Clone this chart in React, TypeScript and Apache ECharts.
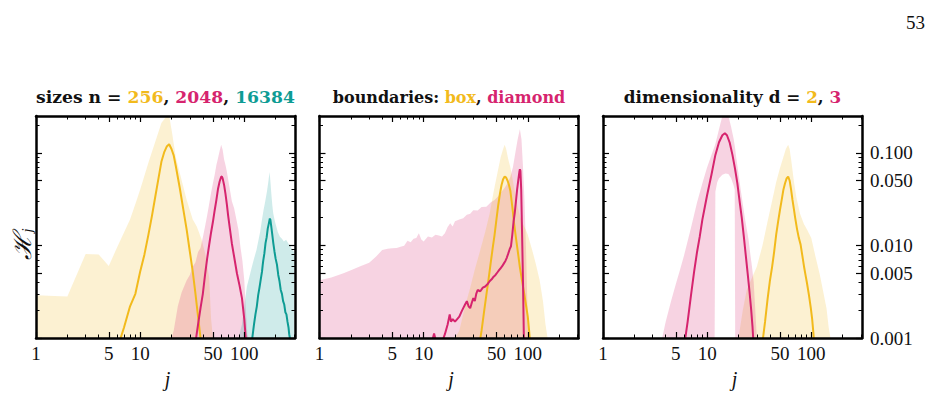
import React, { useEffect, useRef } from "react";
import * as echarts from "echarts";

// ---------- axis ranges & ticks ----------
const xMin = 1;
const xMax = 307;
const yMin = 0.001;
const yMax = 0.25;
const xMajorTicks = [1, 5, 10, 50, 100];
const xMinorTicks = [2, 3, 4, 6, 7, 8, 9, 20, 30, 40, 60, 70, 80, 90, 200, 300];
const yMajorTicks = [0.001, 0.005, 0.01, 0.05, 0.1];
const yMinorTicks = [0.002, 0.003, 0.004, 0.006, 0.007, 0.008, 0.009, 0.02, 0.03, 0.04, 0.06, 0.07, 0.08, 0.09, 0.2];

// ---------- panel 1: sizes ----------
const n256BandJ = [1, 2, 3, 4, 5, 6, 7, 8, 9, 10, 12, 14, 16, 18, 19, 20, 22, 25, 28, 32, 35, 39, 42, 46, 48, 50];
const n256BandHi = [0.0029, 0.0028, 0.0081, 0.008, 0.006, 0.0095, 0.0138, 0.019, 0.028, 0.04, 0.078, 0.133, 0.21, 0.28, 0.32, 0.18, 0.09, 0.051, 0.031, 0.019, 0.016, 0.0115, 0.0083, 0.0045, 0.0016, 0.0005];
const n256BandLo = [0.0005, 0.0005, 0.0005, 0.0005, 0.0005, 0.0005, 0.0005, 0.0005, 0.0005, 0.0005, 0.0005, 0.0005, 0.0005, 0.0005, 0.0005, 0.0005, 0.0005, 0.0005, 0.0005, 0.0005, 0.0005, 0.0005, 0.0005, 0.0005, 0.0005, 0.0005];
const n256LineJ = [6, 6.5, 7, 8, 9, 10, 11, 12, 13, 14, 15, 16, 17, 18, 19, 20, 21, 22, 24, 26, 28, 30, 32, 34, 36, 38, 39];
const n256LineH = [0.0007, 0.001, 0.0013, 0.0022, 0.003, 0.0052, 0.008, 0.013, 0.021, 0.034, 0.053, 0.08, 0.101, 0.117, 0.124, 0.11, 0.094, 0.072, 0.042, 0.0244, 0.0147, 0.0086, 0.0052, 0.003, 0.0017, 0.001, 0.0008];

const n2048BandJ = [20, 21, 23, 25, 28, 30, 32, 34, 36, 38, 40, 42, 44, 46, 48, 50, 52, 54, 56, 58, 60, 62, 64, 66, 68, 72, 76, 80, 84, 88, 92, 96, 100, 104, 107, 110];
const n2048BandHi = [0.0006, 0.0012, 0.0022, 0.0031, 0.0042, 0.0048, 0.0059, 0.0066, 0.0085, 0.0094, 0.0122, 0.016, 0.021, 0.028, 0.037, 0.047, 0.058, 0.074, 0.088, 0.105, 0.122, 0.108, 0.085, 0.074, 0.063, 0.043, 0.03, 0.025, 0.019, 0.0147, 0.0095, 0.0068, 0.0042, 0.0019, 0.0011, 0.0006];
const n2048BandLo = n2048BandJ.map(() => 0.0005);
const n2048LineJ = [34, 36, 38, 40, 42, 44, 46, 48, 50, 52, 54, 56, 58, 60, 61, 62, 64, 66, 68, 70, 73, 76, 80, 85, 90, 95, 100, 104];
const n2048LineH = [0.0009, 0.0014, 0.0021, 0.003, 0.0048, 0.0072, 0.0101, 0.0138, 0.018, 0.024, 0.031, 0.041, 0.049, 0.055, 0.0555, 0.053, 0.045, 0.036, 0.028, 0.021, 0.0147, 0.0105, 0.0075, 0.005, 0.0037, 0.0027, 0.0016, 0.0009];

const n16384BandJ = [88, 95, 100, 106, 112, 118, 124, 131, 136, 142, 148, 153, 159, 165, 170, 175, 178, 182, 186, 190, 195, 200, 210, 220, 230, 240, 252, 265, 278, 290, 300];
const n16384BandHi = [0.0008, 0.0014, 0.0022, 0.0036, 0.0046, 0.0058, 0.0072, 0.0089, 0.011, 0.014, 0.019, 0.024, 0.03, 0.038, 0.048, 0.062, 0.05, 0.036, 0.027, 0.022, 0.019, 0.017, 0.014, 0.0124, 0.0118, 0.011, 0.0115, 0.0105, 0.0098, 0.009, 0.0085];
const n16384BandLo = n16384BandJ.map(() => 0.0005);
const n16384LineJ = [118, 124, 128, 132, 136, 140, 144, 148, 150, 152, 156, 160, 164, 168, 172, 176, 178, 182, 186, 190, 195, 200, 206, 212, 218, 224, 230, 236, 242, 248, 254, 260, 266, 270, 274, 278];
const n16384LineH = [0.0009, 0.0014, 0.0018, 0.0022, 0.0029, 0.0035, 0.0043, 0.0052, 0.006, 0.0068, 0.0082, 0.0106, 0.0122, 0.0152, 0.0172, 0.0195, 0.019, 0.0158, 0.0129, 0.0106, 0.0086, 0.0072, 0.0062, 0.0048, 0.0041, 0.0033, 0.003, 0.0025, 0.0023, 0.0019, 0.0018, 0.0015, 0.0013, 0.0011, 0.001, 0.0008];

// ---------- panel 2: boundaries ----------
const diamondBandJ = [1, 1.3, 1.7, 2, 2.5, 3, 3.5, 4, 4.5, 5, 5.5, 6, 6.5, 7, 7.5, 8, 8.5, 9, 9.5, 10, 11, 12, 13, 14, 15, 16, 17, 18, 19, 20, 22, 24, 26, 28, 30, 33, 36, 40, 44, 48, 52, 56, 60, 64, 68, 72, 76, 80, 84, 87, 90, 93, 96, 98, 100, 102];
const diamondBandHi = [0.0042, 0.0045, 0.005, 0.0054, 0.006, 0.0065, 0.0076, 0.0089, 0.0092, 0.0093, 0.0094, 0.0097, 0.0099, 0.0112, 0.0108, 0.0118, 0.012, 0.0135, 0.0116, 0.011, 0.0125, 0.0122, 0.013, 0.0128, 0.0125, 0.0135, 0.0158, 0.0174, 0.016, 0.0182, 0.019, 0.0196, 0.0215, 0.022, 0.024, 0.0238, 0.026, 0.0262, 0.029, 0.031, 0.034, 0.038, 0.042, 0.047, 0.055, 0.07, 0.1, 0.14, 0.18, 0.14, 0.07, 0.03, 0.01, 0.004, 0.0015, 0.0006];
const diamondBandLo = diamondBandJ.map(() => 0.0005);
const diamondLineJ = [12, 12.6, 13.2, 14, 15, 16, 17, 17.8, 18.3, 19, 20, 21, 22, 23, 24, 25, 26, 27, 28, 29, 30, 31, 32, 33, 35, 37, 39, 41, 43, 45, 47, 49, 51, 53, 55, 57, 59, 61, 63, 65, 67, 69, 71, 73, 75, 77, 79, 81, 83, 84, 85, 86.5, 88, 90, 91, 92];
const diamondLineH = [0.0009, 0.00112, 0.0009, 0.0008, 0.0009, 0.0011, 0.0014, 0.0018, 0.0015, 0.0016, 0.0015, 0.0016, 0.0017, 0.0019, 0.0021, 0.0023, 0.0025, 0.0022, 0.0021, 0.0024, 0.0027, 0.0025, 0.003, 0.0033, 0.0032, 0.0035, 0.0036, 0.0038, 0.0041, 0.0043, 0.0046, 0.0048, 0.0051, 0.0054, 0.0057, 0.006, 0.0064, 0.0068, 0.0074, 0.0082, 0.0091, 0.0098, 0.013, 0.018, 0.0225, 0.03, 0.04, 0.05, 0.062, 0.0665, 0.064, 0.04, 0.015, 0.004, 0.0018, 0.0008];

const boxBandJ = [20, 22, 25, 28, 31, 35, 39, 43, 47, 51, 55, 58, 60, 62, 65, 68, 72, 76, 80, 85, 90, 95, 100, 110, 120, 130, 140, 148, 155];
const boxBandHi = [0.0006, 0.0012, 0.0022, 0.0035, 0.0055, 0.0089, 0.014, 0.022, 0.038, 0.06, 0.09, 0.11, 0.122, 0.11, 0.085, 0.07, 0.05, 0.035, 0.026, 0.02, 0.017, 0.015, 0.013, 0.009, 0.0062, 0.0042, 0.0025, 0.0014, 0.0007];
const boxBandLo = boxBandJ.map(() => 0.0005);
const boxLineJ = [34, 36, 38, 40, 42, 44, 46, 48, 50, 52, 54, 56, 58, 60, 62, 64, 66, 68, 70, 72, 74, 76, 80, 84, 88, 92, 96, 100, 103, 106];
const boxLineH = [0.0008, 0.0012, 0.0019, 0.0029, 0.0043, 0.0064, 0.0093, 0.013, 0.019, 0.027, 0.036, 0.045, 0.052, 0.0555, 0.054, 0.05, 0.045, 0.039, 0.03, 0.023, 0.017, 0.0135, 0.0088, 0.0058, 0.0042, 0.0031, 0.0023, 0.0017, 0.0012, 0.0008];

// ---------- panel 3: dimensionality ----------
const d2BandJ = [19, 20, 22, 24, 27, 30, 34, 38, 42, 46, 50, 54, 57, 60, 62, 65, 68, 72, 78, 85, 92, 100, 110, 121, 130, 140, 147, 153];
const d2BandHi = [0.0006, 0.001, 0.002, 0.0033, 0.0045, 0.0059, 0.01, 0.018, 0.03, 0.048, 0.068, 0.09, 0.11, 0.122, 0.11, 0.075, 0.05, 0.033, 0.022, 0.017, 0.0145, 0.012, 0.0075, 0.0048, 0.0032, 0.0021, 0.0013, 0.0007];
const d2BandLo = d2BandJ.map(() => 0.0005);
const d2LineJ = [34, 36, 38, 40, 42, 44, 46, 48, 50, 52, 54, 56, 58, 60, 62, 64, 66, 68, 70, 73, 76, 79, 82, 85, 88, 91, 95, 99, 102, 105, 108];
const d2LineH = [0.0009, 0.0015, 0.0026, 0.0041, 0.0058, 0.0085, 0.013, 0.018, 0.024, 0.031, 0.04, 0.047, 0.053, 0.0555, 0.05, 0.04, 0.031, 0.025, 0.02, 0.015, 0.012, 0.0102, 0.0078, 0.006, 0.0048, 0.0039, 0.0029, 0.0021, 0.0016, 0.0011, 0.0007];

const d3BandJ = [3.5, 3.7, 4, 4.5, 5, 5.5, 6, 7, 8, 9, 10, 11, 11.8, 12, 12.5, 13, 14, 15, 16, 17, 18, 18.4, 18.6, 19, 20, 21, 22, 23, 24, 25, 26, 27, 28, 29, 30];
const d3BandHi = [0.0006, 0.001, 0.0015, 0.0025, 0.0038, 0.0055, 0.0078, 0.0155, 0.029, 0.047, 0.07, 0.095, 0.118, 0.125, 0.15, 0.18, 0.26, 0.3, 0.25, 0.19, 0.14, 0.12, 0.11, 0.09, 0.06, 0.04, 0.028, 0.02, 0.015, 0.0115, 0.008, 0.0058, 0.004, 0.002, 0.0008];
const d3BandLo = [0.0005, 0.0005, 0.0005, 0.0005, 0.0005, 0.0005, 0.0005, 0.0005, 0.0005, 0.0005, 0.0005, 0.0005, 0.0005, 0.038, 0.048, 0.053, 0.058, 0.06, 0.059, 0.053, 0.044, 0.04, 0.0005, 0.0005, 0.0005, 0.0005, 0.0005, 0.0005, 0.0005, 0.0005, 0.0005, 0.0005, 0.0005, 0.0005, 0.0005];
const d3LineJ = [6, 6.5, 7, 7.5, 8, 8.5, 9, 9.5, 10, 11, 12, 13, 14, 14.8, 15.5, 16.5, 17.5, 18.5, 19.5, 20.5, 21.5, 22.5, 23.5, 24.5, 25.5, 26.5, 27.3, 28];
const d3LineH = [0.0008, 0.0015, 0.0029, 0.0052, 0.0085, 0.0125, 0.019, 0.026, 0.035, 0.058, 0.095, 0.13, 0.155, 0.163, 0.155, 0.128, 0.095, 0.068, 0.047, 0.03, 0.02, 0.0125, 0.0078, 0.005, 0.0032, 0.002, 0.0013, 0.0008];

// ---------- texts ----------
const yTickLabels = ["0.001", "0.005", "0.010", "0.050", "0.100"];
const titles = [
  [["sizes n = ", "k"], ["256", "y"], [", ", "k"], ["2048", "p"], [", ", "k"], ["16384", "t"]],
  [["boundaries: ", "k"], ["box", "y"], [", ", "k"], ["diamond", "p"]],
  [["dimensionality d = ", "k"], ["2", "y"], [", ", "k"], ["3", "p"]],
];
const titleSizes = [17.2, 16, 16.8];

const COL = { y: "#F2BA1C", p: "#D6246E", t: "#0E9C94", k: "#111111" };
const FILL = { y: "rgba(242,186,28,0.2)", p: "rgba(214,36,110,0.2)", t: "rgba(14,156,148,0.2)" };

const SERIF = "'Liberation Serif', 'DejaVu Serif', serif";
const TITLE_FONT = "'DejaVu Serif', 'Liberation Serif', serif";

const gridLefts = [36, 319.5, 603];
const gridTop = 116;
const gridW = 259;
const gridH = 222;

function clampY(v: number) {
  return Math.min(Math.max(v, yMin), yMax);
}
function clampX(v: number) {
  return Math.min(Math.max(v, xMin), xMax);
}

function band(xi: number, yi: number, js: number[], lo: number[], hi: number[], fill: string) {
  return {
    type: "custom",
    xAxisIndex: xi,
    yAxisIndex: yi,
    clip: true,
    silent: true,
    z: 1,
    data: js.map((j, i) => [j, lo[i], hi[i]]),
    encode: { x: 0, y: [1, 2] },
    renderItem: (params: any, api: any) => {
      if (params.dataIndex !== 0) return { type: "group", children: [] };
      const top = js.map((j, i) => api.coord([clampX(j), clampY(hi[i])]));
      const bot = js.map((j, i) => api.coord([clampX(j), clampY(lo[i])])).reverse();
      return {
        type: "polygon",
        shape: { points: top.concat(bot) },
        style: { fill, stroke: null },
      };
    },
  };
}

function line(xi: number, yi: number, js: number[], vs: number[], color: string) {
  return {
    type: "line",
    xAxisIndex: xi,
    yAxisIndex: yi,
    data: js.map((j, i) => [j, vs[i]]),
    showSymbol: false,
    symbol: "none",
    clip: true,
    silent: true,
    z: 3,
    lineStyle: { color, width: 2 },
    itemStyle: { color },
  };
}

function buildOption() {
  const grids: any[] = [];
  const xAxes: any[] = [];
  const yAxes: any[] = [];
  const series: any[] = [];
  const graphics: any[] = [];

  const frame = { show: true, onZero: false, lineStyle: { color: "#000", width: 2.5 } };
  const noLine = { show: false, onZero: false };
  const tickMajor = (vals: number[]) => ({
    show: true, inside: true, length: 6, customValues: vals, lineStyle: { color: "#000", width: 1.2 },
  });
  const tickMinor = (vals: number[]) => ({
    show: true, inside: true, length: 3.5, customValues: vals, lineStyle: { color: "#000", width: 1 },
  });

  for (let p = 0; p < 3; p++) {
    const left = gridLefts[p];
    const g = { left, top: gridTop, width: gridW, height: gridH, containLabel: false };
    grids.push({ ...g });
    grids.push({ ...g });
    const gMaj = 2 * p;
    const gMin = 2 * p + 1;
    const baseX = { type: "log", logBase: 10, min: xMin, max: xMax, splitLine: { show: false }, z: 10 };
    const baseY = { type: "log", logBase: 10, min: yMin, max: yMax, splitLine: { show: false }, z: 10 };
    xAxes.push({
      ...baseX, gridIndex: gMaj, position: "bottom", axisLine: frame, axisTick: tickMajor(xMajorTicks),
      axisLabel: {
        show: true, customValues: xMajorTicks, formatter: (v: number) => String(Math.round(v)),
        margin: 6, fontFamily: SERIF, fontSize: 19, color: "#111",
      },
    });
    xAxes.push({ ...baseX, gridIndex: gMaj, position: "top", axisLine: frame, axisTick: tickMajor(xMajorTicks), axisLabel: { show: false } });
    xAxes.push({ ...baseX, gridIndex: gMin, position: "bottom", axisLine: noLine, axisTick: tickMinor(xMinorTicks), axisLabel: { show: false } });
    xAxes.push({ ...baseX, gridIndex: gMin, position: "top", axisLine: noLine, axisTick: tickMinor(xMinorTicks), axisLabel: { show: false } });

    yAxes.push({ ...baseY, gridIndex: gMaj, position: "left", axisLine: frame, axisTick: tickMajor(yMajorTicks), axisLabel: { show: false } });
    yAxes.push({
      ...baseY, gridIndex: gMaj, position: "right", axisLine: frame, axisTick: tickMajor(yMajorTicks),
      axisLabel: p === 2
        ? {
            show: true, customValues: yMajorTicks,
            formatter: (v: number) => {
              const idx = yMajorTicks.findIndex((t) => Math.abs(Math.log10(t) - Math.log10(v)) < 1e-6);
              return idx >= 0 ? yTickLabels[idx] : "";
            },
            margin: 8, fontFamily: SERIF, fontSize: 19, color: "#111",
          }
        : { show: false },
    });
    yAxes.push({ ...baseY, gridIndex: gMin, position: "left", axisLine: noLine, axisTick: tickMinor(yMinorTicks), axisLabel: { show: false } });
    yAxes.push({ ...baseY, gridIndex: gMin, position: "right", axisLine: noLine, axisTick: tickMinor(yMinorTicks), axisLabel: { show: false } });

    // titles
    const parts = titles[p];
    const rich: any = {};
    (["k", "y", "p", "t"] as const).forEach((c) => {
      rich[c] = { fill: (COL as any)[c], fontFamily: TITLE_FONT, fontWeight: "bold", fontSize: titleSizes[p] };
    });
    graphics.push({
      type: "text",
      x: left + gridW / 2,
      y: 97,
      silent: true,
      style: {
        text: parts.map(([s, c]) => `{${c}|${s}}`).join(""),
        align: "center",
        verticalAlign: "middle",
        rich,
      },
    });
    // x axis name
    graphics.push({
      type: "text",
      x: left + gridW / 2 + 2,
      y: 379,
      silent: true,
      style: {
        text: "j", align: "center", verticalAlign: "middle",
        fontFamily: SERIF, fontStyle: "italic", fontSize: 20, fill: "#111",
      },
    });
  }

  const xi = (p: number) => 4 * p;
  const yi = (p: number) => 4 * p;

  // panel 1
  series.push(band(xi(0), yi(0), n256BandJ, n256BandLo, n256BandHi, FILL.y));
  series.push(band(xi(0), yi(0), n2048BandJ, n2048BandLo, n2048BandHi, FILL.p));
  series.push(band(xi(0), yi(0), n16384BandJ, n16384BandLo, n16384BandHi, FILL.t));
  series.push(line(xi(0), yi(0), n256LineJ, n256LineH, COL.y));
  series.push(line(xi(0), yi(0), n2048LineJ, n2048LineH, COL.p));
  series.push(line(xi(0), yi(0), n16384LineJ, n16384LineH, COL.t));
  // panel 2
  series.push(band(xi(1), yi(1), diamondBandJ, diamondBandLo, diamondBandHi, FILL.p));
  series.push(band(xi(1), yi(1), boxBandJ, boxBandLo, boxBandHi, FILL.y));
  series.push(line(xi(1), yi(1), boxLineJ, boxLineH, COL.y));
  series.push(line(xi(1), yi(1), diamondLineJ, diamondLineH, COL.p));
  // panel 3
  series.push(band(xi(2), yi(2), d2BandJ, d2BandLo, d2BandHi, FILL.y));
  series.push(band(xi(2), yi(2), d3BandJ, d3BandLo, d3BandHi, FILL.p));
  series.push(line(xi(2), yi(2), d2LineJ, d2LineH, COL.y));
  series.push(line(xi(2), yi(2), d3LineJ, d3LineH, COL.p));

  // y axis name
  graphics.push({
    type: "text",
    x: 22,
    y: 244,
    rotation: Math.PI / 2,
    silent: true,
    style: {
      text: "{h|ℋ}{s|j}",
      align: "center",
      verticalAlign: "middle",
      rich: {
        h: { fontFamily: "'DejaVu Serif', serif", fontStyle: "italic", fontSize: 25, fill: "#111" },
        s: { fontFamily: SERIF, fontStyle: "italic", fontSize: 15, fill: "#111", padding: [10, 0, 0, 1] },
      },
    },
  });
  // page number
  graphics.push({
    type: "text",
    x: 925,
    y: 22,
    silent: true,
    style: { text: "53", align: "right", verticalAlign: "middle", fontFamily: SERIF, fontSize: 19, fill: "#111" },
  });

  return {
    animation: false,
    backgroundColor: "#ffffff",
    grid: grids,
    xAxis: xAxes,
    yAxis: yAxes,
    series,
    graphic: graphics,
  };
}

export default function App() {
  const ref = useRef<HTMLDivElement>(null);
  useEffect(() => {
    if (!ref.current) return;
    const chart = echarts.init(ref.current, undefined, { renderer: "svg" });
    chart.setOption(buildOption() as any);
    return () => chart.dispose();
  }, []);
  return (
    <div
      ref={ref}
      style={{ position: "absolute", left: 0, top: 0, width: 931, height: 393, background: "#fff" }}
    />
  );
}
